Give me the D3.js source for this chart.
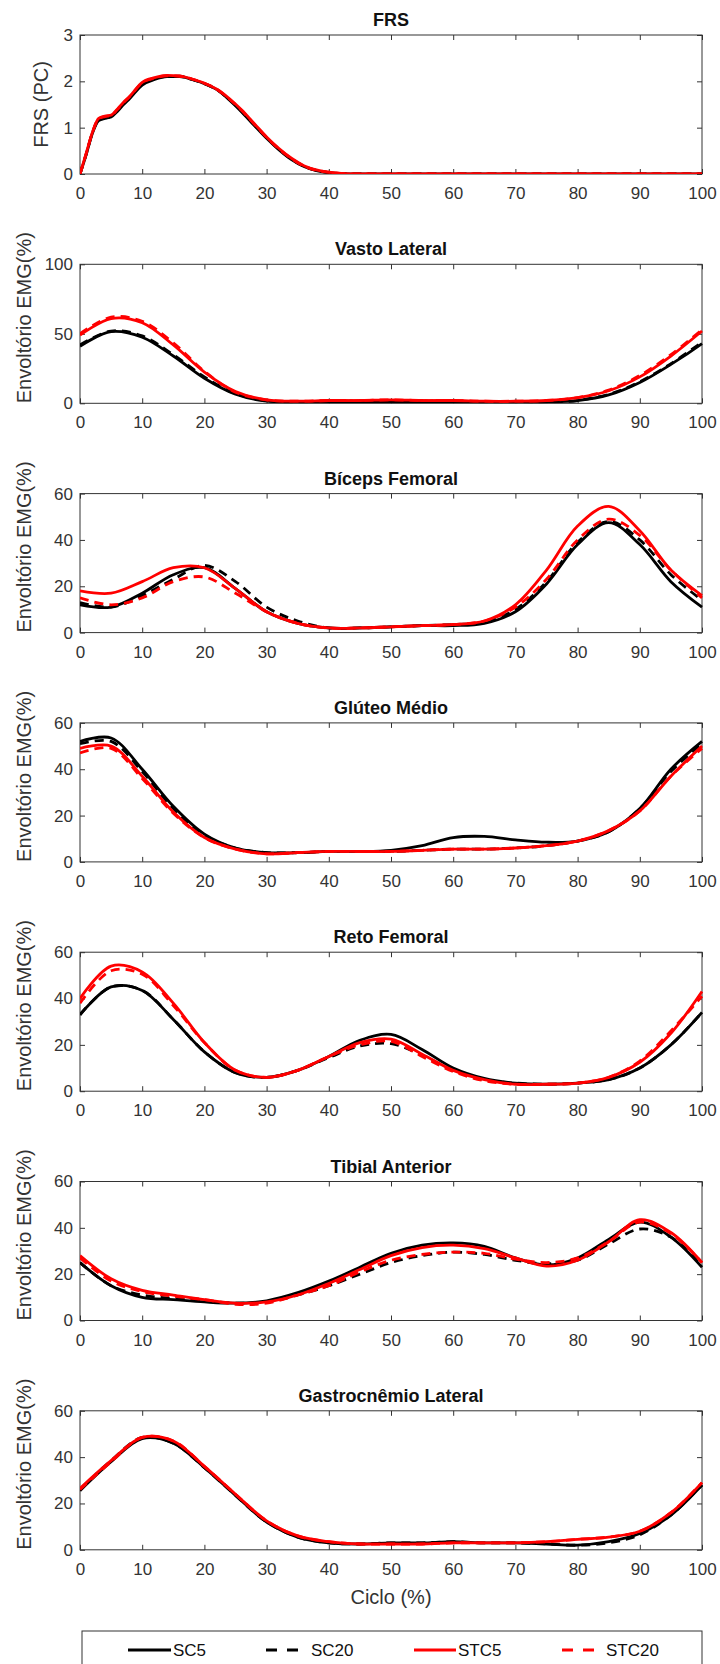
<!DOCTYPE html>
<html>
<head>
<meta charset="utf-8">
<script src="https://cdn.jsdelivr.net/npm/d3@7"></script>
<style>
  body { margin: 0; background: #fff; }
  svg text { font-family: "Liberation Sans", Arial, Helvetica, sans-serif; }
</style>
</head>
<body>
<div id="chart"></div>
<script>
// gait cycle (%) shared by the EMG panels
var cycle = [0, 5, 10, 15, 20, 25, 30, 35, 40, 45, 50, 55, 60, 65, 70, 75, 80, 85, 90, 95, 100];
var frsCycle = [0, 1, 2, 3, 4, 5, 6, 7, 8, 10, 12, 14, 16, 18, 20, 22, 24, 26, 28, 30, 32, 34, 36, 38, 40, 42, 45, 50, 60, 70, 80, 90, 100];

var seriesNames = ["SC5", "SC20", "STC5", "STC20"];
var xTicks = [0, 10, 20, 30, 40, 50, 60, 70, 80, 90, 100];

// FRS (PC)
var frsSC5   = [0, 0.42, 0.88, 1.15, 1.2, 1.23, 1.35, 1.5, 1.63, 1.92, 2.04, 2.1, 2.1, 2.04, 1.95, 1.82, 1.6, 1.34, 1.05, 0.77, 0.52, 0.31, 0.16, 0.07, 0.03, 0.01, 0, 0, 0, 0, 0, 0, 0];
var frsSC20  = [0, 0.43, 0.89, 1.17, 1.21, 1.24, 1.37, 1.52, 1.65, 1.94, 2.05, 2.11, 2.11, 2.04, 1.95, 1.82, 1.61, 1.35, 1.06, 0.78, 0.53, 0.32, 0.17, 0.08, 0.03, 0.01, 0, 0, 0, 0, 0, 0, 0];
var frsSTC5  = [0, 0.45, 0.9, 1.2, 1.25, 1.27, 1.4, 1.55, 1.68, 1.98, 2.08, 2.13, 2.12, 2.05, 1.96, 1.83, 1.63, 1.38, 1.09, 0.8, 0.55, 0.34, 0.18, 0.09, 0.04, 0.015, 0, 0, 0, 0, 0, 0, 0];
var frsSTC20 = [0, 0.44, 0.9, 1.19, 1.24, 1.26, 1.39, 1.54, 1.67, 1.97, 2.07, 2.12, 2.11, 2.05, 1.96, 1.83, 1.62, 1.37, 1.08, 0.79, 0.54, 0.33, 0.17, 0.08, 0.04, 0.01, 0, 0, 0, 0, 0, 0, 0];

// Vasto Lateral
var vlSC5   = [41, 51.5, 47.5, 34, 18, 6.5, 1.5, 1, 1, 1, 1, 1, 1, 1, 1, 1, 2, 6, 15, 28, 43];
var vlSC20  = [42, 52, 48.5, 35, 19, 7, 2, 1, 1.5, 1.5, 1.5, 1.5, 1.5, 1, 1, 1, 2, 6.5, 15.5, 28.5, 44];
var vlSTC5  = [49, 61, 58, 42, 22.5, 8.5, 2.5, 1.5, 2, 2, 2.5, 2, 2, 1.5, 1.5, 2, 4, 9, 19, 34, 52];
var vlSTC20 = [50, 62, 59, 43.5, 23, 8, 2.5, 1.5, 2, 2, 2.5, 2, 2, 1.5, 1.5, 2, 4, 9.5, 20, 35, 53];

// Bíceps Femoral
var bfSC5   = [12, 11, 17, 25, 28, 19, 9, 4, 2, 2, 2.5, 3, 3, 4, 9, 21, 38, 47.5, 38, 22, 11];
var bfSC20  = [13, 11, 16, 23, 29, 22, 11, 5, 2, 2, 2.5, 3, 3.5, 4.5, 10, 22, 39, 48, 40, 25, 14];
var bfSTC5  = [18, 17, 22, 28, 28, 19, 9, 4, 2, 2, 2.5, 3, 3.5, 5, 12, 27, 46, 54.5, 44, 27, 16];
var bfSTC20 = [15, 12, 15, 22, 24, 17, 9, 4, 2, 2, 2.5, 3, 3.5, 5, 11, 23, 40, 49, 42, 27, 15];

// Glúteo Médio
var gmSC5   = [52, 53.5, 40, 24, 12, 6, 4, 4, 4.5, 4.5, 5, 7, 10.5, 11, 9.5, 8.5, 9, 13, 23, 40, 52];
var gmSC20  = [51, 52, 39, 23, 11.5, 6, 4, 4, 4.5, 4.5, 4.5, 5, 5.5, 5.5, 6, 7, 9, 13, 23, 39, 51];
var gmSTC5  = [49, 50, 37, 21.5, 10.5, 5.5, 3.5, 4, 4.5, 4.5, 4.5, 5, 5.5, 5.5, 6, 7, 9, 13.5, 22, 37, 50];
var gmSTC20 = [47, 49, 36, 21, 10.5, 5.5, 3.5, 4, 4.5, 4.5, 4.5, 5, 5.5, 5.5, 6, 7, 9, 13.5, 22, 37, 49];

// Reto Femoral
var rfSC5   = [33, 45, 43.5, 31, 17, 8, 6, 9, 15, 22, 24.5, 18, 10, 5.5, 3.5, 3, 3.5, 5, 10, 20, 34];
var rfSC20  = [33, 45, 43.5, 31, 17, 8, 6, 9, 14.5, 19.5, 20.5, 15.5, 9, 5, 3.5, 3, 3.5, 5, 10, 20, 34];
var rfSTC5  = [40, 54, 51.5, 38, 21, 9, 6, 9, 15, 21, 22.5, 16, 9, 5, 3, 3, 3.5, 6, 12.5, 25, 43];
var rfSTC20 = [38, 52, 50.5, 37, 21, 9, 6, 9, 15, 20, 21.5, 15, 8.5, 4.5, 3, 3, 3.5, 6, 13, 26, 41];

// Tibial Anterior
var taSC5   = [25, 15, 10, 9, 8, 7.5, 8.5, 12, 17, 23, 29, 32.5, 33.5, 32, 27, 24, 27, 35, 42.5, 36, 23];
var taSC20  = [25, 15, 11, 9.5, 8.5, 7.5, 8, 11, 15, 20, 25, 28, 29.5, 28.5, 26, 24.5, 26, 33, 39.5, 36, 24];
var taSTC5  = [28, 18, 13, 11, 9, 7.5, 8, 11, 16, 22, 28, 31.5, 32.5, 31, 27, 23.5, 26, 34, 43.5, 38, 25];
var taSTC20 = [27, 17, 12.5, 10.5, 9, 7, 7.5, 11, 15, 21, 26, 28.5, 29.5, 29, 26.5, 25, 27, 34, 42.5, 37.5, 25];

// Gastrocnêmio Lateral
var glSC5   = [25.5, 38, 48, 46, 35.5, 23.5, 12, 5.5, 3, 2.5, 3, 3, 3.5, 3, 3, 2.5, 2, 3.5, 7, 15, 28];
var glSC20  = [26, 38.5, 48.5, 46, 35.5, 23.5, 12, 5.5, 3, 2.5, 3, 3, 3.5, 3, 3, 2.5, 2, 3, 6.5, 15, 28];
var glSTC5  = [26.5, 38.5, 48.5, 47, 36, 24, 12.5, 6, 3.5, 2.5, 2.5, 2.5, 3, 3, 3, 3.5, 4.5, 5.5, 8, 16, 29];
var glSTC20 = [26, 38, 48.5, 47, 36, 24, 12.5, 6, 3.5, 2.5, 2.5, 2.5, 3, 3, 3, 3.5, 4.5, 5.5, 8, 16, 29];

var panels = [
  { title: "FRS", ylabel: "FRS (PC)", yMax: 3, yTicks: [0, 1, 2, 3], x: frsCycle, series: [frsSC5, frsSC20, frsSTC5, frsSTC20] },
  { title: "Vasto Lateral", ylabel: "Envoltório EMG(%)", yMax: 100, yTicks: [0, 50, 100], x: cycle, series: [vlSC5, vlSC20, vlSTC5, vlSTC20] },
  { title: "Bíceps Femoral", ylabel: "Envoltório EMG(%)", yMax: 60, yTicks: [0, 20, 40, 60], x: cycle, series: [bfSC5, bfSC20, bfSTC5, bfSTC20] },
  { title: "Glúteo Médio", ylabel: "Envoltório EMG(%)", yMax: 60, yTicks: [0, 20, 40, 60], x: cycle, series: [gmSC5, gmSC20, gmSTC5, gmSTC20] },
  { title: "Reto Femoral", ylabel: "Envoltório EMG(%)", yMax: 60, yTicks: [0, 20, 40, 60], x: cycle, series: [rfSC5, rfSC20, rfSTC5, rfSTC20] },
  { title: "Tibial Anterior", ylabel: "Envoltório EMG(%)", yMax: 60, yTicks: [0, 20, 40, 60], x: cycle, series: [taSC5, taSC20, taSTC5, taSTC20] },
  { title: "Gastrocnêmio Lateral", ylabel: "Envoltório EMG(%)", yMax: 60, yTicks: [0, 20, 40, 60], x: cycle, series: [glSC5, glSC20, glSTC5, glSTC20] }
];

var width = 720, height = 1664;
var left = 80, right = 702;
var top0 = 35, step = 229.3, plotH = 139;
var axisColor = "#333";
var colors = { SC5: "#000", SC20: "#000", STC5: "#ff0000", STC20: "#ff0000" };
var dashes = { SC5: null, SC20: "9,6", STC5: null, STC20: "9,6" };

var svg = d3.select("#chart").append("svg")
    .attr("width", width)
    .attr("height", height);

var x = d3.scaleLinear().domain([0, 100]).range([left, right]);
var fmt = d3.format("d");

panels.forEach(function (p, i) {
    var top = top0 + i * step;
    var bottom = top + plotH;
    var y = d3.scaleLinear().domain([0, p.yMax]).range([bottom, top]);
    var g = svg.append("g");

    g.append("clipPath").attr("id", "clip" + i)
        .append("rect")
        .attr("x", left).attr("y", top - 2)
        .attr("width", right - left + 2).attr("height", plotH + 2);

    // axes (MATLAB style: ticks inside, on all four sides)
    var bx = g.append("g").attr("transform", "translate(0," + bottom + ")")
        .call(d3.axisBottom(x).tickValues(xTicks).tickFormat(fmt).tickSizeInner(-5).tickSizeOuter(0).tickPadding(13));
    var tx = g.append("g").attr("transform", "translate(0," + top + ")")
        .call(d3.axisTop(x).tickValues(xTicks).tickSizeInner(-5).tickSizeOuter(0).tickFormat(""));
    var ly = g.append("g").attr("transform", "translate(" + left + ",0)")
        .call(d3.axisLeft(y).tickValues(p.yTicks).tickFormat(fmt).tickSizeInner(-5).tickSizeOuter(0).tickPadding(7));
    var ry = g.append("g").attr("transform", "translate(" + right + ",0)")
        .call(d3.axisRight(y).tickValues(p.yTicks).tickSizeInner(-5).tickSizeOuter(0).tickFormat(""));

    [bx, tx, ly, ry].forEach(function (a) {
        a.select(".domain").remove();
        a.selectAll("line").attr("stroke", axisColor);
        a.selectAll("text").attr("fill", "#333").style("font-size", "17px");
    });

    g.append("rect")
        .attr("x", left).attr("y", top)
        .attr("width", right - left).attr("height", plotH)
        .attr("fill", "none").attr("stroke", axisColor).attr("stroke-width", 1);

    var line = d3.line()
        .x(function (d) { return x(d[0]); })
        .y(function (d) { return y(d[1]); })
        .curve(i === 0 ? d3.curveMonotoneX : d3.curveCatmullRom.alpha(0.5));

    var lines = g.append("g").attr("clip-path", "url(#clip" + i + ")");
    p.series.forEach(function (vals, k) {
        var name = seriesNames[k];
        lines.append("path")
            .datum(p.x.map(function (xv, j) { return [xv, vals[j]]; }))
            .attr("fill", "none")
            .attr("stroke", colors[name])
            .attr("stroke-width", 2.8)
            .attr("stroke-dasharray", dashes[name])
            .attr("d", line);
    });

    g.append("text")
        .attr("x", (left + right) / 2)
        .attr("y", top - 9)
        .attr("text-anchor", "middle")
        .attr("font-weight", "bold")
        .attr("fill", "#111")
        .style("font-size", "18px")
        .text(p.title);

    var lab = g.append("text")
        .attr("fill", "#333")
        .style("font-size", "20px")
        .text(p.ylabel);
    if (i === 0) {
        lab.attr("text-anchor", "middle")
           .attr("transform", "translate(48," + ((top + bottom) / 2) + ") rotate(-90)");
    } else {
        lab.attr("text-anchor", "start")
           .attr("transform", "translate(31," + bottom + ") rotate(-90)");
    }
});

// x label under the last panel
var lastBottom = top0 + (panels.length - 1) * step + plotH;
svg.append("text")
    .attr("x", (left + right) / 2)
    .attr("y", lastBottom + 54)
    .attr("text-anchor", "middle")
    .attr("fill", "#333")
    .style("font-size", "20px")
    .text("Ciclo (%)");

// legend
var legendY = 1650;
var legendItems = [
  { name: "SC5", x0: 128, x1: 171, tx: 173 },
  { name: "SC20", x0: 266, x1: 299, tx: 311 },
  { name: "STC5", x0: 414, x1: 456, tx: 458 },
  { name: "STC20", x0: 562, x1: 596, tx: 606 }
];
var legend = svg.append("g");
legend.append("rect")
    .attr("x", 82).attr("y", 1631)
    .attr("width", 620).attr("height", 60)
    .attr("fill", "#fff").attr("stroke", axisColor);
legendItems.forEach(function (d) {
    legend.append("line")
        .attr("x1", d.x0).attr("x2", d.x1)
        .attr("y1", legendY).attr("y2", legendY)
        .attr("stroke", colors[d.name])
        .attr("stroke-width", 3)
        .attr("stroke-dasharray", dashes[d.name] ? "11,10" : null);
    legend.append("text")
        .attr("x", d.tx).attr("y", legendY + 6)
        .attr("fill", "#111")
        .style("font-size", "17px")
        .text(d.name);
});
</script>
</body>
</html>
